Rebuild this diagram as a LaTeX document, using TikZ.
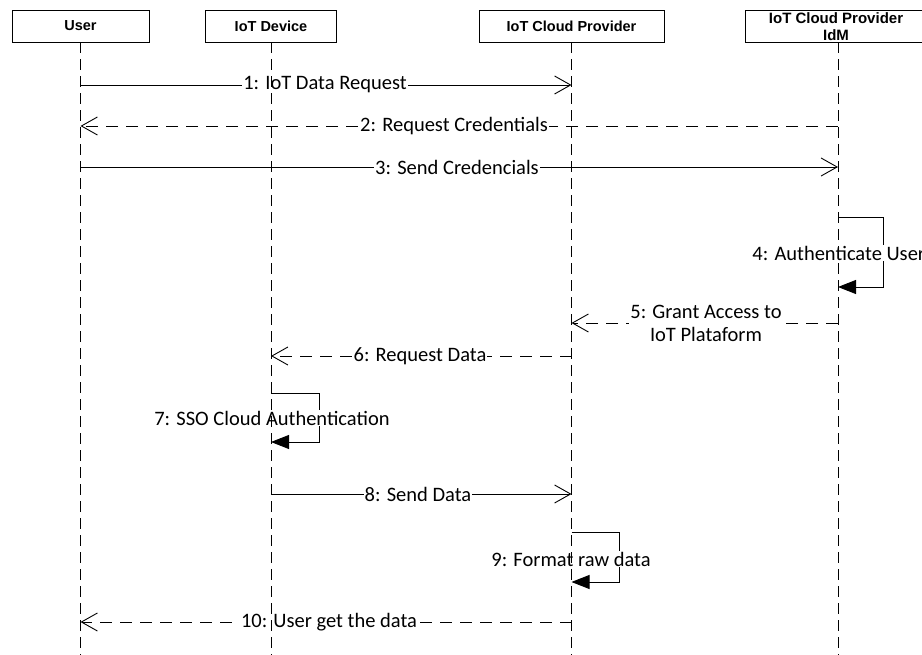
\documentclass[tikz,border=0pt]{standalone}
\usepackage{fontspec}
\setmainfont{Carlito}
\newfontfamily\boxfont{Liberation Sans}
\usetikzlibrary{arrows.meta}
\begin{document}
\begin{tikzpicture}[x=1pt,y=-1pt,line width=0.9pt,
  actor/.style={draw,fill=white,minimum height=32pt,inner sep=0pt,align=center,
    font=\boxfont\bfseries\fontsize{14.5}{16}\selectfont},
  life/.style={dash pattern=on 11pt off 6pt},
  msg/.style={-{Straight Barb[length=16pt,width=18pt,line width=0.9pt]}},
  ret/.style={msg,dash pattern=on 12pt off 8pt},
  selfmsg/.style={-{Triangle[length=18pt,width=14pt]}},
  lbl/.style={fill=white,inner sep=1pt,align=center,font=\fontsize{20.5}{23}\selectfont}]
\path[use as bounding box] (0,0) rectangle (922,655);

% actors
\node[actor,minimum width=137pt] (user) at (80.5,26) {User};
\node[actor,minimum width=131pt] (dev) at (271,26) {IoT Device};
\node[actor,minimum width=185pt] (cloud) at (571.5,26) {IoT Cloud Provider};
\node[actor,minimum width=186pt] (idm) at (838,26) {};
\node[font=\boxfont\bfseries\fontsize{15}{16}\selectfont,inner sep=0pt] (idmt1) at (836,18) {IoT Cloud Provider};
\node[font=\boxfont\bfseries\fontsize{15}{16}\selectfont,inner sep=0pt] (idmt2) at (836,35) {IdM};

% lifeline ends
\coordinate (ue) at (user |- 0,655);
\coordinate (de) at (dev |- 0,655);
\coordinate (ce) at (cloud |- 0,655);
\coordinate (ie) at (idm |- 0,655);

% messages
\draw[msg] (user |- 0,85) -- (cloud |- 0,85);
\node[lbl] (l1) at (325,85) {1: IoT Data Request};

\draw[ret] (idm |- 0,126) -- (user |- 0,126);
\node[lbl] (l2) at (454,126) {2: Request Credentials};

\draw[msg] (user |- 0,167) -- (idm |- 0,167);
\node[lbl] (l3) at (457,167) {3: Send Credencials};

\draw[selfmsg] (idm |- 0,217) -| (883,287) -- (idm |- 0,287);
\node[lbl,anchor=west] (l4) at (751,253) {4: Authenticate User};

\draw[ret] (idm |- 0,323) -- (cloud |- 0,323);
\node[lbl] (l5) at (706,323.5) {5: Grant Access to\\IoT Plataform};

\draw[ret] (cloud |- 0,356) -- (dev |- 0,356);
\node[lbl] (l6) at (420,356) {6: Request Data};

\draw[selfmsg] (dev |- 0,393) -| (319,442) -- (dev |- 0,442);
\node[lbl] (l7) at (272,418) {7: SSO Cloud Authentication};

\draw[msg] (dev |- 0,494) -- (cloud |- 0,494);
\node[lbl] (l8) at (418,494) {8: Send Data};

\draw[selfmsg] (cloud |- 0,532) -| (619,582) -- (cloud |- 0,582);
\node[lbl] (l9) at (571,559) {9: Format raw data};

\draw[ret] (cloud |- 0,622) -- (user |- 0,622);
\node[lbl] (l10) at (329,622) {10: User get the data};

% lifelines
\draw[life] (user.south) -- (ue);
\draw[life] (dev.south) -- (de);
\draw[life] (cloud.south) -- (ce);
\draw[life] (idm.south) -- (ie);
\end{tikzpicture}
\end{document}
